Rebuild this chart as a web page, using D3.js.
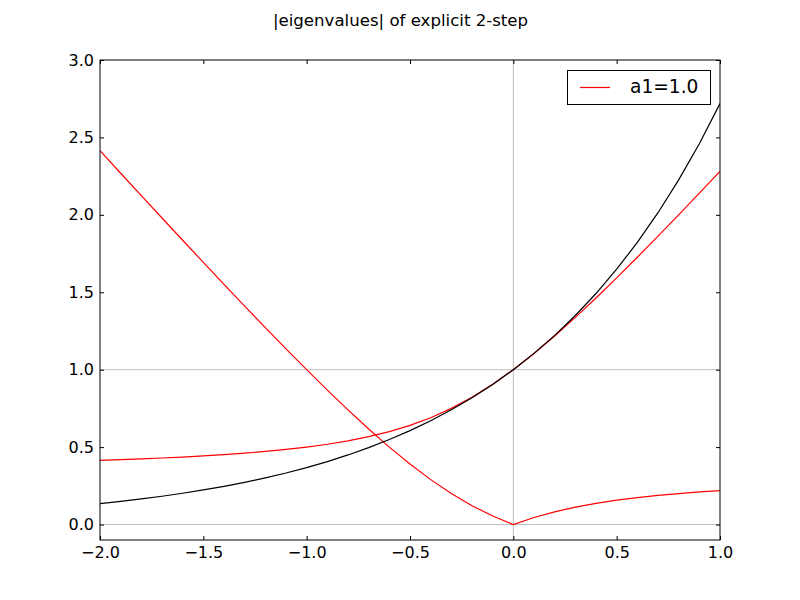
<!DOCTYPE html>
<html>
<head>
<meta charset="utf-8">
<script src="https://cdn.jsdelivr.net/npm/d3@7"></script>
<style>
  html, body { margin: 0; padding: 0; background: #fff; }
  text { font-family: "DejaVu Sans", sans-serif; }
</style>
</head>
<body>
<svg id="chart" width="800" height="600"></svg>
<script>
// ---- data ----
const xs = [-2.0,-1.9,-1.8,-1.7,-1.6,-1.5,-1.4,-1.3,-1.2,-1.1,-1.0,-0.9,-0.8,-0.7,-0.6,-0.5,-0.4,-0.3,-0.2,-0.1,0.0,0.1,0.2,0.3,0.4,0.5,0.6,0.7,0.8,0.9,1.0];
const redUpper = [0.41421,0.41874,0.42378,0.42942,0.43578,0.44300,0.45125,0.46075,0.47178,0.48471,0.5,0.51827,0.54031,0.56714,0.6,0.64039,0.68990,0.75,0.82170,0.90524,1.0,1.10474,1.21789,1.33789,1.46332,1.59307,1.72621,1.86204,2.0,2.13969,2.28078];
const redLower = [2.41421,2.26874,2.12378,1.97942,1.83578,1.69300,1.55125,1.41075,1.27178,1.13471,1.0,0.86827,0.74031,0.61714,0.5,0.39039,0.28990,0.2,0.12170,0.05524,0.0,0.04526,0.08211,0.11211,0.13668,0.15693,0.17379,0.18796,0.2,0.21031,0.21922];
const blackRef = [0.13534,0.14957,0.16530,0.18268,0.20190,0.22313,0.24660,0.27253,0.30119,0.33287,0.36788,0.40657,0.44933,0.49659,0.54881,0.60653,0.67032,0.74082,0.81873,0.90484,1.0,1.10517,1.22140,1.34986,1.49182,1.64872,1.82212,2.01375,2.22554,2.45960,2.71828];
const xTicks = [-2.0,-1.5,-1.0,-0.5,0.0,0.5,1.0];
const yTicks = [0.0,0.5,1.0,1.5,2.0,2.5,3.0];
const refH = [0, 1];
const refV = [0];
const titleText = "|eigenvalues| of explicit 2-step";
const legendLabel = "a1=1.0";

// ---- layout ----
const svg = d3.select("#chart");
const L = 100, R = 720, T = 60, B = 540;
const x = d3.scaleLinear().domain([-2, 1]).range([L, R]);
const y = d3.scaleLinear().domain([-0.1, 3.0]).range([B, T]);

// title
svg.append("text").attr("x", 400.5).attr("y", 25.5).attr("text-anchor", "middle")
  .attr("font-size", "16.6px").text(titleText);

// reference lines
const plot = svg.append("g");
plot.selectAll("line.h").data(refH).enter().append("line")
  .attr("x1", L).attr("x2", R).attr("y1", d => y(d)).attr("y2", d => y(d))
  .attr("stroke", "#bfbfbf").attr("stroke-width", 1);
plot.selectAll("line.v").data(refV).enter().append("line")
  .attr("x1", d => x(d)).attr("x2", d => x(d)).attr("y1", T).attr("y2", B)
  .attr("stroke", "#bfbfbf").attr("stroke-width", 1);

// clip
svg.append("clipPath").attr("id", "clip").append("rect")
  .attr("x", L).attr("y", T).attr("width", R - L).attr("height", B - T);

const line = vals => d3.line().x((d, i) => x(xs[i])).y(d => y(d))(vals);
const series = [
  { v: redUpper, c: "#ff0000" },
  { v: redLower, c: "#ff0000" },
  { v: blackRef, c: "#000000" }
];
const g = svg.append("g").attr("clip-path", "url(#clip)");
series.forEach(s => {
  g.append("path").attr("d", line(s.v)).attr("fill", "none")
    .attr("stroke", s.c).attr("stroke-width", 1.2);
});

// axes (ticks inside, classic style, all four sides)
const tickLen = 4;
const ax = svg.append("g");
const xb = ax.append("g").attr("transform", `translate(0,${B})`)
  .call(d3.axisBottom(x).tickValues(xTicks).tickFormat(d3.format(".1f")).tickSizeInner(-tickLen).tickSizeOuter(0).tickPadding(6.6));
const xt = ax.append("g").attr("transform", `translate(0,${T})`)
  .call(d3.axisTop(x).tickValues(xTicks).tickFormat("").tickSizeInner(-tickLen).tickSizeOuter(0));
const yl = ax.append("g").attr("transform", `translate(${L},0)`)
  .call(d3.axisLeft(y).tickValues(yTicks).tickFormat(d3.format(".1f")).tickSizeInner(-tickLen).tickSizeOuter(0).tickPadding(6));
const yr = ax.append("g").attr("transform", `translate(${R},0)`)
  .call(d3.axisRight(y).tickValues(yTicks).tickFormat("").tickSizeInner(-tickLen).tickSizeOuter(0));
[xb, xt, yl, yr].forEach(a => {
  a.select(".domain").remove();
  a.selectAll("line").attr("stroke", "#000").attr("stroke-width", 1);
  a.selectAll("text").attr("font-size", "16px").attr("fill", "#000")
    .style("font-family", "'DejaVu Sans', sans-serif");
});
xb.selectAll("text").text(d => (d < 0 ? "\u2212" : "") + Math.abs(d).toFixed(1));

// frame
svg.append("rect").attr("x", L).attr("y", T).attr("width", R - L).attr("height", B - T)
  .attr("fill", "none").attr("stroke", "#000").attr("stroke-width", 1);

// legend
const lg = svg.append("g");
lg.append("rect").attr("x", 567.5).attr("y", 70.5).attr("width", 143).attr("height", 34)
  .attr("fill", "#fff").attr("stroke", "#000").attr("stroke-width", 1);
lg.append("line").attr("x1", 580).attr("x2", 610).attr("y1", 87.5).attr("y2", 87.5)
  .attr("stroke", "#ff0000").attr("stroke-width", 1.2);
lg.append("text").attr("x", 630).attr("y", 93.3).attr("font-size", "18.6px").text(legendLabel);
</script>
</body>
</html>
